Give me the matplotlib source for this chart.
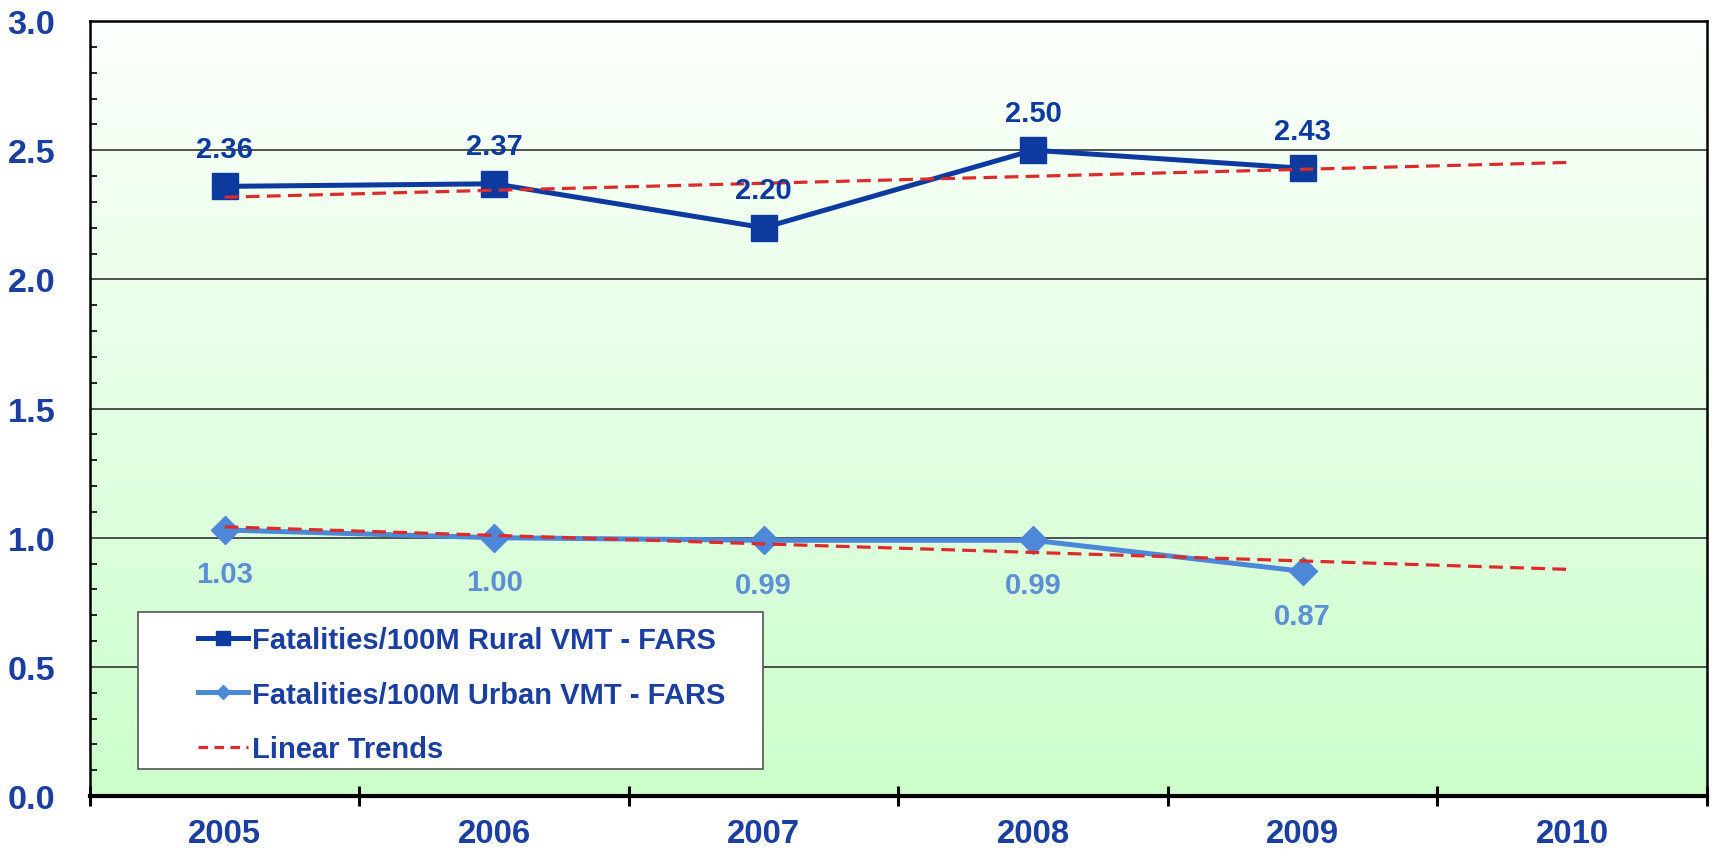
import numpy as np
import matplotlib
matplotlib.use("Agg")
import matplotlib.pyplot as plt
from matplotlib import font_manager
from matplotlib.lines import Line2D
from matplotlib.patches import Rectangle
from matplotlib.ticker import MultipleLocator

years = ["2005", "2006", "2007", "2008", "2009", "2010"]
rural = [2.36, 2.37, 2.20, 2.50, 2.43]
urban = [1.03, 1.00, 0.99, 0.99, 0.87]
y_ticks = [0.0, 0.5, 1.0, 1.5, 2.0, 2.5, 3.0]
legend_labels = [
    "Fatalities/100M Rural VMT - FARS",
    "Fatalities/100M Urban VMT - FARS",
    "Linear Trends",
]

# the original text is tall and narrow: use the narrow face if it is there
installed = {f.name for f in font_manager.fontManager.ttflist}
if "Liberation Sans Narrow" in installed:
    plt.rcParams["font.family"] = ["Liberation Sans Narrow", "Liberation Sans", "DejaVu Sans"]
    fs = 1.2
else:
    plt.rcParams["font.family"] = ["Liberation Sans", "DejaVu Sans"]
    fs = 1.05
plt.rcParams["font.weight"] = "bold"

dark_blue = "#0d3a9e"
light_blue = "#4d88d8"
label_blue = "#5b8fd6"
text_blue = "#1a3fa0"
red = "#dd2a2a"

fig = plt.figure(figsize=(17.14, 8.54), dpi=100)
ax = fig.add_axes([0.0525, 0.0667, 0.9434, 0.9075])

x = np.arange(len(rural))
x_all = np.arange(len(years))

# green gradient behind the plot
grad = np.linspace(0, 1, 256)[:, None, None]
top = np.array([252, 255, 252]) / 255
bottom = np.array([204, 255, 204]) / 255
img = top + (bottom - top) * grad
ax.imshow(img, extent=(-0.5, 5.5, 0, 3), aspect="auto", zorder=0, origin="upper")

# linear trends through 2010
rural_fit = np.polyfit(x, rural, 1)
urban_fit = np.polyfit(x, urban, 1)
dash = (4.3, 2.3)
ax.plot(x_all, np.polyval(rural_fit, x_all), color=red, lw=2.3, dashes=dash, zorder=3)
ax.plot(x_all, np.polyval(urban_fit, x_all), color=red, lw=2.3, dashes=dash, zorder=3)

ax.plot(x, rural, color=dark_blue, lw=3.6, marker="s", markersize=18.5, zorder=2.5)
ax.plot(x, urban, color=light_blue, lw=3.6, marker="D", markersize=14, zorder=2.5)

for xi, v in zip(x, rural):
    ax.annotate(f"{v:.2f}", (xi, v), xytext=(0, 27), textcoords="offset points",
                ha="center", va="center", fontsize=20 * fs, color=dark_blue, fontweight="bold")
for xi, v in zip(x, urban):
    ax.annotate(f"{v:.2f}", (xi, v), xytext=(0, -32), textcoords="offset points",
                ha="center", va="center", fontsize=20 * fs, color=label_blue, fontweight="bold")

ax.set_xlim(-0.5, 5.5)
ax.set_ylim(0, 3)

ax.set_yticks(y_ticks)
ax.set_yticklabels([f"{t:.1f}" for t in y_ticks])
ax.yaxis.set_minor_locator(MultipleLocator(0.1))
ax.tick_params(axis="y", which="major", length=0, pad=25, labelsize=23.5 * fs, labelcolor=text_blue)
ax.tick_params(axis="y", which="minor", direction="in", length=5, width=1.2, color="black")
ax.yaxis.grid(True, color="#333333", lw=1.2)

ax.set_xticks(np.arange(-0.5, 6, 1))
ax.set_xticklabels([])
ax.set_xticks(x_all, minor=True)
ax.set_xticklabels(years, minor=True)
ax.tick_params(axis="x", which="major", direction="inout", length=15, width=2.2, color="black")
ax.tick_params(axis="x", which="minor", length=0, pad=16, labelsize=22.5 * fs, labelcolor=text_blue)

for side in ["left", "top", "right"]:
    ax.spines[side].set_linewidth(1.8)
    ax.spines[side].set_color("black")
ax.spines["bottom"].set_linewidth(3)
ax.spines["bottom"].set_color("black")

# legend box
ax.add_patch(Rectangle((0.0297, 0.035), 0.3865, 0.202, transform=ax.transAxes,
                       facecolor="white", edgecolor="#555555", lw=1.2, zorder=4))
handles = [
    Line2D([], [], color=dark_blue, lw=3.6, marker="s", markersize=10),
    Line2D([], [], color=light_blue, lw=3.6, marker="D", markersize=7),
    Line2D([], [], color=red, lw=2.3, dashes=(3, 2)),
]
leg = ax.legend(handles, legend_labels, loc="upper left", bbox_to_anchor=(0.058, 0.238),
                frameon=False, borderpad=0, handlelength=1.8 / fs, handletextpad=0.12,
                labelspacing=0.95 / fs, prop=dict(size=20 * fs, weight="bold"))
leg.set_zorder(5)
for t in leg.get_texts():
    t.set_color(text_blue)

fig.savefig("out.png", dpi=100)
